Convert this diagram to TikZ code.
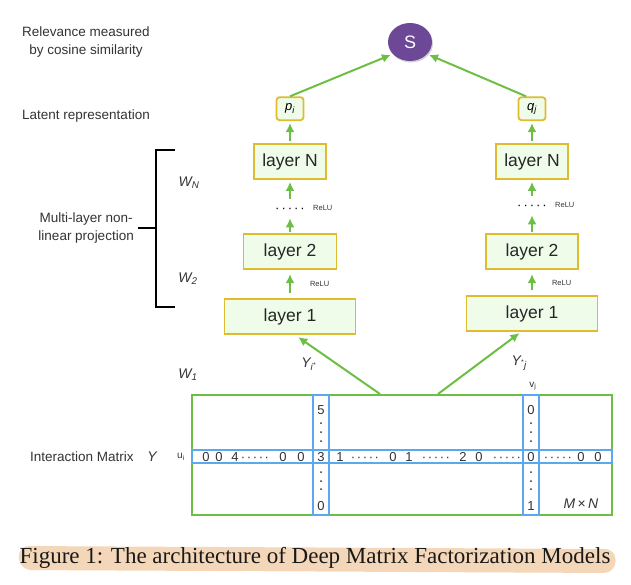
\documentclass[tikz,border=0pt]{standalone}
\usepackage{fontspec}
\setmainfont{Liberation Sans}
\newfontfamily\capfont{Liberation Serif}
\usetikzlibrary{arrows.meta,positioning,shapes.geometric,shadows}

\definecolor{arrgreen}{HTML}{6DBE45}
\definecolor{boxgold}{HTML}{DFBC2E}
\definecolor{boxfill}{HTML}{EFFCEA}
\definecolor{rowblue}{HTML}{5AA8F2}
\definecolor{spurple}{HTML}{6C4896}
\definecolor{hilite}{HTML}{F4D7B9}
\definecolor{txtgray}{HTML}{333333}

\newcommand{\rowdots}{\textperiodcentered\kern1.6pt\textperiodcentered\kern1.6pt\textperiodcentered\kern1.6pt\textperiodcentered\kern1.6pt\textperiodcentered}
\newcommand{\laydots}{\textperiodcentered\kern2pt\textperiodcentered\kern2pt\textperiodcentered\kern2pt\textperiodcentered\kern2pt\textperiodcentered}

\begin{document}
\begin{tikzpicture}[x=1pt,y=-1pt,>=Latex,
  layer/.style={draw=boxgold,line width=1.8pt,fill=boxfill,minimum height=35pt,inner sep=0pt,text=black!85,font=\fontsize{17.5}{20}\selectfont},
  latent/.style={draw=boxgold,line width=1.8pt,fill=boxfill,rounded corners=3pt,minimum width=27pt,minimum height=23pt,inner sep=0pt,font=\fontsize{13}{15}\selectfont\itshape},
  flow/.style={draw=arrgreen,line width=2pt,-{Latex[length=9pt,width=9pt]}},
  ann/.style={text=txtgray,inner sep=0pt,font=\fontsize{13.5}{18.5}\selectfont},
  relu/.style={text=txtgray,inner sep=0pt,font=\fontsize{7.5}{9}\selectfont},
  wlab/.style={text=txtgray,inner sep=0pt,font=\fontsize{14}{16}\selectfont\itshape},
  small/.style={text=txtgray,inner sep=0pt,font=\fontsize{10}{12}\selectfont},
  cell/.style={inner sep=0pt,text height=9.3pt,text depth=0pt,text=txtgray,font=\fontsize{13}{15}\selectfont},
  hdots/.style={inner sep=0pt,minimum height=18pt,text height=8pt,text depth=0pt,font=\fontsize{13}{15}\selectfont},
  band/.style={draw=rowblue,line width=2pt,inner sep=0pt}]
  \useasboundingbox (0,0) rectangle (631,584);

  % left tower
  \node[layer,minimum width=131pt] (l1) at (290,316.5) {layer 1};
  \node[layer,minimum width=93pt,above=28pt of l1] (l2) {layer 2};
  \node[hdots,above=16pt of l2] (dl) {\laydots};
  \node[layer,minimum width=72pt,above=19pt of dl] (lN) {layer N};
  \node[latent,above=22pt of lN] (pi) {p\textsubscript{i}};
  % right tower
  \node[layer,minimum width=131pt] (r1) at (532,313.5) {layer 1};
  \node[layer,minimum width=92pt,above=25pt of r1] (r2) {layer 2};
  \node[hdots,above=19pt of r2] (dr) {\laydots};
  \node[layer,minimum width=72pt,above=16pt of dr] (rN) {layer N};
  \node[latent,above=22pt of rN] (qj) {q\textsubscript{j}};

  \node[ellipse,fill=spurple,minimum width=44pt,minimum height=38pt,text=white,
    font=\fontsize{18}{20}\selectfont,
    drop shadow={shadow xshift=1pt,shadow yshift=-1.5pt,opacity=.35}] (s) at (410,42) {S};

  \draw[flow,shorten >=2pt] (pi.north) -- (s.-145);
  \draw[flow,shorten >=2pt] ([xshift=-6pt]qj.north) -- (s.-35);

  \draw[flow,shorten <=5pt,shorten >=4pt] (l1) -- node[relu,right=19pt]{ReLU} (l2);
  \draw[flow,shorten <=1pt,shorten >=1pt] (l2) -- (dl);
  \draw[flow,shorten >=2pt] (dl) -- (lN);
  \node[relu,right=8pt of dl] (reluL) {ReLU};
  \draw[flow,shorten <=2pt,shorten >=2pt] (lN) -- (pi);

  \draw[flow,shorten <=5pt,shorten >=4pt] (r1) -- node[relu,right=19pt]{ReLU} (r2);
  \draw[flow,shorten <=1pt,shorten >=1pt] (r2) -- (dr);
  \draw[flow,shorten >=2pt] (dr) -- (rN);
  \node[relu,right=8pt of dr] (reluR) {ReLU};
  \draw[flow,shorten <=2pt,shorten >=2pt] (rN) -- (qj);

  % interaction matrix
  \node[draw=arrgreen,line width=2pt,minimum width=420pt,minimum height=120pt,inner sep=0pt] (ym) at (402,455) {};
  \node[band,minimum width=420pt,minimum height=13pt] (urow) at (402,456.5) {};
  \node[band,minimum width=16pt,minimum height=120pt] (vc1) at (321,455) {};
  \node[band,minimum width=16pt,minimum height=120pt] (vc2) at (531,455) {};

  \draw[flow,shorten >=4pt] ([xshift=-22pt]ym.north) -- node[wlab,left=20pt]{Y\textsubscript{i\textsuperscript{*}}} ([xshift=5pt]l1.south);
  \draw[flow,shorten >=2pt] ([xshift=36pt]ym.north) -- node[wlab,right=31pt]{Y\textsubscript{\textsuperscript{*}j}} ([xshift=-11pt]r1.south);

  \foreach \x/\d in {206/0,219/0,235/4,283/0,301/0,321/3,340/1,393/0,409/1,463/2,479/0,531/0,581/0,598/0}
    \node[cell] (c\x) at (\x,457) {\d};
  \foreach \x in {255,365,436,507,558}
    \node[cell] (h\x) at (\x,457) {\rowdots};
  \foreach \x/\a/\b in {321/5/0,531/0/1} {
    \node[cell] (t\x) at (\x,410) {\a};
    \node[cell] (b\x) at (\x,506) {\b};
    \foreach \y in {423,432,441,472,481,489}
      \fill[txtgray] (\x,\y) circle (1pt);
  }
  \node[wlab] (mn) at (581,504) {M\,\textup{×}\,N};
  \node[small] (ui) at (181,457) {u\textsubscript{i}};
  \node[small] (vj) at (533,386) {v\textsubscript{j}};

  % left annotations
  \node[ann,align=center] (rel) at (86,42) {Relevance measured\\by cosine similarity};
  \node[ann,anchor=west] (lat) at (22,116) {Latent representation};
  \node[ann,align=center,anchor=east] (mlp) at (134,228) {Multi-layer non-\\linear projection};
  \node[ann,anchor=west] (imx) at (30,457) {Interaction Matrix};
  \node[wlab] (ylab) at (152,457) {Y};
  \node[wlab] (wn) at (189,183) {W\textsubscript{N}};
  \node[wlab] (w2) at (188,279) {W\textsubscript{2}};
  \node[wlab] (w1) at (188,375) {W\textsubscript{1}};

  \coordinate (brk) at (156,228);
  \draw[line width=1.8pt] (175,150) -- (156,150) -- (156,307) -- (175,307);
  \draw[line width=1.8pt] ([xshift=4pt]mlp.east) -- (brk);

  % caption
  \fill[hilite,rounded corners=11pt] (18,546) -- (616,549) -- (615,573) -- (20,570) -- cycle;
  \node[font=\capfont\fontsize{23}{26}\selectfont,text=black!90] (cap) at (315,558)
    {Figure 1: The architecture of Deep Matrix Factorization Models};
\end{tikzpicture}
\end{document}
